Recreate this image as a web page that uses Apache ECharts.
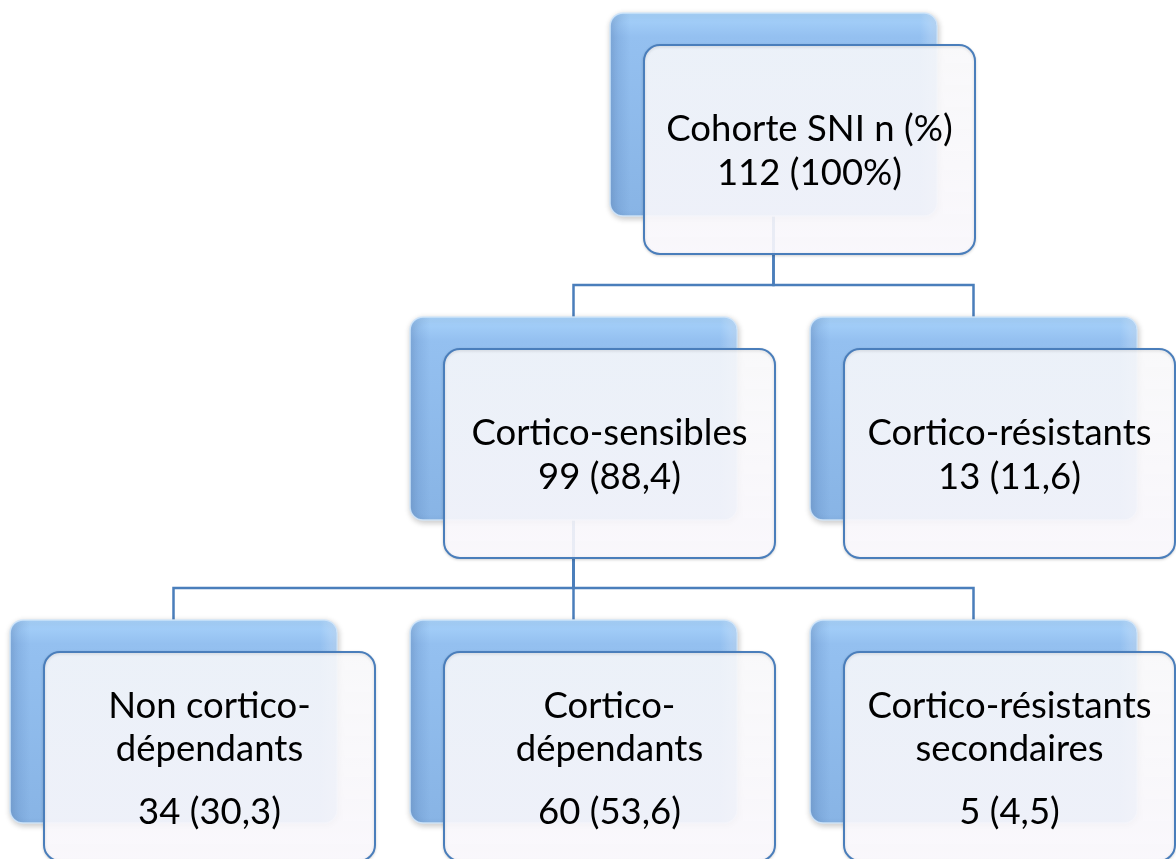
<!DOCTYPE html>
<html>
<head>
<meta charset="utf-8">
<script src="https://cdn.jsdelivr.net/npm/echarts@6/dist/echarts.min.js"></script>
<style>
html, body { margin: 0; padding: 0; background: #fff; }
#chart { width: 1176px; height: 859px; }
</style>
</head>
<body>
<div id="chart"></div>
<script>
// cohort data
var nodeNames = ['Cohorte SNI n (%)', 'Cortico-sensibles', 'Cortico-résistants',
    'Non cortico-\ndépendants', 'Cortico-\ndépendants', 'Cortico-résistants\nsecondaires'];
var nodeCounts = [112, 99, 13, 34, 60, 5];
var nodePercents = ['100%', '88,4', '11,6', '30,3', '53,6', '4,5'];
var nodeParents = [-1, 0, 0, 1, 1, 1];

// layout, in the pixel space of the hidden axes
var boxLeft = [610, 410, 810, 10, 410, 810];
var rowTop = [13, 317, 620];
var busY = [285, 588];
var BACK_W = 327, BACK_H = 203;
var FRONT_DX = 34, FRONT_DY = 32, FRONT_W = 331, FRONT_H = 209;
var FONT = 'Lato';
var FONT_SIZE = 36.5;
var LINE = '#4a7ebb';

function depth(i) {
    var d = 0;
    while (nodeParents[i] >= 0) { i = nodeParents[i]; d++; }
    return d;
}

var boxData = nodeNames.map(function (n, i) {
    return [boxLeft[i], rowTop[depth(i)], i];
});

// one polyline per child: parent centre -> bus -> child top
var edgeData = [];
nodeParents.forEach(function (p, i) {
    if (p < 0) return;
    var d = depth(i);
    edgeData.push([
        boxLeft[p] + BACK_W / 2, rowTop[d - 1] + BACK_H / 2,
        boxLeft[i] + BACK_W / 2, rowTop[d], busY[d - 1]
    ]);
});

function renderEdge(params, api) {
    var a = api.coord([api.value(0), api.value(1)]);
    var b = api.coord([api.value(2), api.value(3)]);
    var bus = api.coord([0, api.value(4)])[1];
    return {
        type: 'polyline',
        shape: { points: [[a[0], a[1]], [a[0], bus], [b[0], bus], [b[0], b[1]]] },
        style: { stroke: LINE, lineWidth: 2.5, fill: null }
    };
}

function renderBack(params, api) {
    var p = api.coord([api.value(0), api.value(1)]);
    var s = api.size([BACK_W, BACK_H]);
    return {
        type: 'group',
        children: [{
            type: 'rect',
            shape: { x: p[0], y: p[1], width: s[0], height: s[1], r: 13 },
            style: {
                fill: { type: 'linear', x: 0, y: 0, x2: 0, y2: 1, colorStops: [
                    { offset: 0, color: '#a9d4fc' },
                    { offset: 0.12, color: '#94c0f0' },
                    { offset: 1, color: '#88b4e5' }] },
                stroke: 'rgba(210,230,250,0.9)', lineWidth: 1.5,
                shadowBlur: 6, shadowColor: 'rgba(0,0,0,0.22)', shadowOffsetX: 1, shadowOffsetY: 2
            }
        }, {
            type: 'rect',
            shape: { x: p[0] + 1, y: p[1] + 1, width: s[0] - 2, height: s[1] - 2, r: 12 },
            style: {
                fill: { type: 'linear', x: 0, y: 0, x2: 1, y2: 0, colorStops: [
                    { offset: 0, color: 'rgba(60,100,160,0.22)' },
                    { offset: 0.06, color: 'rgba(60,100,160,0)' },
                    { offset: 0.95, color: 'rgba(255,255,255,0)' },
                    { offset: 1, color: 'rgba(255,255,255,0.25)' }] }
            }
        }]
    };
}

function renderFront(params, api) {
    var i = api.value(2);
    var p = api.coord([api.value(0) + FRONT_DX, api.value(1) + FRONT_DY]);
    var s = api.size([FRONT_W, FRONT_H]);
    var cx = p[0] + s[0] / 2;
    var twoLines = nodeNames[i].indexOf('\n') >= 0;
    var nameY = p[1] + (twoLines ? 76 : 84);
    var valueY = p[1] + (twoLines ? 160 : 128);
    var textStyle = { fill: '#000', fontFamily: FONT, fontSize: FONT_SIZE, align: 'center',
        verticalAlign: 'middle', lineHeight: 43 };
    return {
        type: 'group',
        children: [{
            type: 'rect',
            shape: { x: p[0], y: p[1], width: s[0], height: s[1], r: 16 },
            style: {
                fill: { type: 'linear', x: 0, y: 0, x2: 0, y2: 1, colorStops: [
                    { offset: 0, color: 'rgba(253,253,255,0.86)' },
                    { offset: 1, color: 'rgba(252,250,255,0.9)' }] },
                stroke: LINE, lineWidth: 2,
                shadowBlur: 3, shadowColor: 'rgba(0,0,0,0.15)', shadowOffsetY: 1
            }
        }, {
            type: 'text',
            style: Object.assign({ text: nodeNames[i], x: cx, y: nameY }, textStyle)
        }, {
            type: 'text',
            style: Object.assign({ text: nodeCounts[i] + ' (' + nodePercents[i] + ')', x: cx, y: valueY }, textStyle)
        }]
    };
}

var chart = echarts.init(document.getElementById('chart'));
chart.setOption({
    animation: false,
    grid: { left: 0, right: 0, top: 0, bottom: 0 },
    xAxis: { type: 'value', min: 0, max: 1176, show: false },
    yAxis: { type: 'value', min: 0, max: 859, inverse: true, show: false },
    series: [
        { type: 'custom', z: 1, clip: false, renderItem: renderEdge, data: edgeData, silent: true },
        { type: 'custom', z: 2, clip: false, renderItem: renderBack, data: boxData, silent: true },
        { type: 'custom', z: 3, clip: false, renderItem: renderFront, data: boxData, silent: true }
    ]
});
</script>
</body>
</html>
